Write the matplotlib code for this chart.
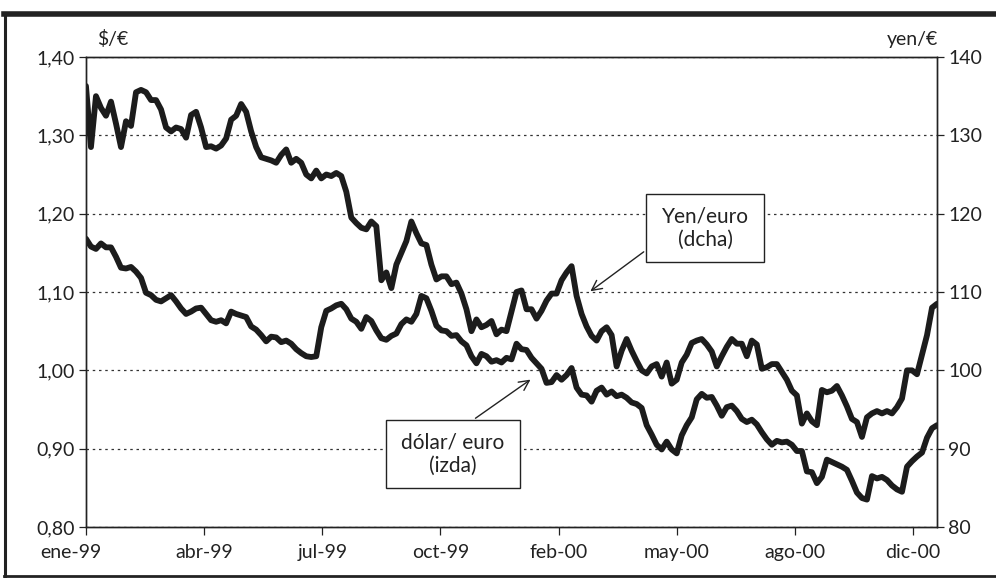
import matplotlib
matplotlib.use("Agg")
import matplotlib.pyplot as plt
import matplotlib.transforms as mtransforms
from matplotlib.lines import Line2D
from matplotlib.patches import Rectangle
from matplotlib.ticker import FuncFormatter

plt.rcParams['font.family'] = ['Lato', 'DejaVu Sans']

# x axis labels (category axis, evenly spaced)
x_labels = ['ene-99', 'abr-99', 'jul-99', 'oct-99', 'feb-00', 'may-00', 'ago-00', 'dic-00']

# dollar per euro (left axis)
dolar_euro = [
    1.168, 1.158, 1.155, 1.162, 1.157, 1.157, 1.145, 1.131, 1.130, 1.132,
    1.126, 1.118, 1.099, 1.096, 1.090, 1.088, 1.092, 1.096, 1.088, 1.079,
    1.072, 1.075, 1.079, 1.080, 1.072, 1.064, 1.062, 1.064, 1.060, 1.075,
    1.072, 1.070, 1.068, 1.056,
    1.052, 1.045, 1.037, 1.043, 1.042, 1.036, 1.038, 1.034, 1.027, 1.022,
    1.018, 1.017, 1.018, 1.055, 1.076, 1.079, 1.083, 1.085, 1.078, 1.066,
    1.062, 1.053, 1.068, 1.063, 1.051, 1.041, 1.039, 1.044, 1.047, 1.059,
    1.065, 1.062, 1.072, 1.095,
    1.092, 1.076, 1.057, 1.051, 1.050, 1.044, 1.045, 1.037, 1.032, 1.018,
    1.009, 1.021, 1.018, 1.011, 1.013, 1.010, 1.016, 1.014, 1.034, 1.027,
    1.026, 1.016, 1.009, 1.002, 0.984, 0.985, 0.994, 0.988, 0.994, 1.003,
    0.978, 0.969, 0.968, 0.960,
    0.974, 0.978, 0.969, 0.973, 0.967, 0.969, 0.965, 0.959, 0.957, 0.952,
    0.930, 0.918, 0.905, 0.899, 0.909, 0.899, 0.894, 0.917, 0.930, 0.940,
    0.963, 0.970, 0.965, 0.966, 0.955, 0.942, 0.953, 0.955, 0.948, 0.938,
    0.934, 0.937, 0.931, 0.921,
    0.912, 0.905, 0.910, 0.908, 0.909, 0.905, 0.897, 0.897, 0.871, 0.870,
    0.856, 0.864, 0.886, 0.883, 0.880, 0.877, 0.873, 0.859, 0.844, 0.837,
    0.835, 0.865, 0.862, 0.864, 0.860, 0.853, 0.848, 0.845, 0.877, 0.884,
    0.890, 0.895, 0.914, 0.926, 0.930,
]

# yen per euro (right axis)
yen_euro = [
    136.3, 128.5, 135.0, 133.5, 132.5, 134.3, 131.5, 128.5, 131.8, 131.2,
    135.5, 135.8, 135.5, 134.5, 134.5, 133.3, 131.0, 130.5, 131.0, 130.8,
    129.7, 132.6, 133.0, 131.0, 128.5, 128.6, 128.3, 128.7, 129.6, 132.0,
    132.5, 134.0, 133.0, 130.5,
    128.5, 127.2, 127.0, 126.8, 126.5, 127.5, 128.2, 126.5, 127.0, 126.5,
    125.0, 124.5, 125.5, 124.5, 125.0, 124.8, 125.2, 124.8, 122.8, 119.5,
    118.8, 118.2, 118.0, 119.0, 118.4, 111.5, 112.5, 110.5, 113.5, 115.0,
    116.5, 119.0, 117.5, 116.2,
    116.0, 113.5, 111.6, 112.0, 112.0, 111.0, 111.2, 109.8, 107.8, 105.0,
    106.5, 105.5, 105.8, 106.3, 104.6, 105.2, 105.0, 107.5, 110.0, 110.2,
    107.8, 107.8, 106.6, 107.6, 108.9, 109.8, 109.8, 111.5, 112.5, 113.3,
    109.5, 107.2, 105.6, 104.4,
    103.8, 105.0, 105.5, 104.5, 100.5, 102.5, 104.0, 102.5, 101.2, 100.0,
    99.6, 100.5, 100.8, 99.2, 101.0, 98.3, 98.8, 101.0, 102.0, 103.5,
    103.8, 104.0, 103.3, 102.4, 100.5, 101.8, 103.0, 104.0, 103.4, 103.4,
    101.8, 103.8, 103.3, 100.2,
    100.4, 100.8, 100.8, 99.8, 98.8, 97.4, 96.8, 93.2, 94.5, 93.5,
    93.0, 97.5, 97.2, 97.4, 98.0, 96.8, 95.4, 93.8, 93.4, 91.5,
    94.0, 94.5, 94.8, 94.5, 94.8, 94.5, 95.3, 96.4, 100.0, 100.0,
    99.5, 102.0, 104.5, 108.0, 108.5,
]

left_ticks = [0.80, 0.90, 1.00, 1.10, 1.20, 1.30, 1.40]
right_ticks = [80, 90, 100, 110, 120, 130, 140]

fig = plt.figure(figsize=(9.96, 5.78), dpi=100)
ax = fig.add_axes([0.0863, 0.0882, 0.8545, 0.8132])
ax2 = ax.twinx()

n = len(dolar_euro)
xs = range(n)
line_kw = dict(color='#1c1c1c', lw=4.2, solid_joinstyle='round', solid_capstyle='round')
ax.plot(xs, dolar_euro, **line_kw)
ax2.plot(xs, yen_euro, **line_kw)

ax.set_xlim(0, n - 1)
ax.set_ylim(0.80, 1.40)
ax2.set_ylim(80, 140)

ax.set_yticks(left_ticks)
ax.yaxis.set_major_formatter(FuncFormatter(lambda v, p: f"{v:.2f}".replace('.', ',')))
ax2.set_yticks(right_ticks)

# dotted horizontal grid
ax.yaxis.grid(True, linestyle=(0, (2, 3)), color='#333333', lw=0.9)

# x ticks every 71 trading days (~23.6 samples)
tick_step = 23.6
ax.set_xticks([i * tick_step for i in range(len(x_labels))])
ax.set_xticklabels(x_labels)

for a in (ax, ax2):
    for s in a.spines.values():
        s.set_color('#222222')
        s.set_linewidth(1.0)
ax.tick_params(axis='y', direction='out', length=5, width=0.9, pad=3, labelsize=14, colors='#222222')
ax2.tick_params(axis='y', direction='out', length=5, width=0.9, pad=3, labelsize=14, colors='#222222')
ax.tick_params(axis='x', direction='out', length=6, width=0.9, pad=6, labelsize=14, colors='#222222')

# first label sits a bit left of its tick
lbl = ax.get_xticklabels()[0]
lbl.set_transform(lbl.get_transform() + mtransforms.ScaledTranslation(-0.15, 0, fig.dpi_scale_trans))

# unit labels
ax.text(0.013, 1.019, '$/€', transform=ax.transAxes, ha='left', va='bottom', fontsize=14, color='#222222')
ax.text(1.001, 1.019, 'yen/€', transform=ax.transAxes, ha='right', va='bottom', fontsize=14, color='#222222')

# annotation boxes
ax2.add_patch(Rectangle((0.658, 0.564), 0.139, 0.145, transform=ax2.transAxes,
                        facecolor='white', edgecolor='#222222', lw=1.0, zorder=5))
ax2.text(0.7274, 0.636, 'Yen/euro\n(dcha)', transform=ax2.transAxes, ha='center', va='center',
         fontsize=15, linespacing=1.25, color='#222222', zorder=6)
ax2.annotate('', xy=(0.590, 0.498), xytext=(0.658, 0.589), xycoords='axes fraction',
             arrowprops=dict(arrowstyle='->', lw=1.0, color='#222222', mutation_scale=18), zorder=6)

ax2.add_patch(Rectangle((0.3525, 0.083), 0.1575, 0.145, transform=ax2.transAxes,
                        facecolor='white', edgecolor='#222222', lw=1.0, zorder=5))
ax2.text(0.4313, 0.1553, 'dólar/ euro\n(izda)', transform=ax2.transAxes, ha='center', va='center',
         fontsize=15, linespacing=1.25, color='#222222', zorder=6)
ax2.annotate('', xy=(0.525, 0.317), xytext=(0.455, 0.228), xycoords='axes fraction',
             arrowprops=dict(arrowstyle='->', lw=1.0, color='#222222', mutation_scale=18), zorder=6)

# dark frame round the figure
frame = '#222222'
fig.add_artist(Line2D([0.004, 1.0], [0.9758, 0.9758], color=frame, lw=4.0))
fig.add_artist(Line2D([0.0055, 0.0055], [0.003, 0.978], color=frame, lw=2.2))
fig.add_artist(Line2D([0.004, 1.0], [0.0035, 0.0035], color=frame, lw=2.0))

fig.savefig('out.png', dpi=100)
